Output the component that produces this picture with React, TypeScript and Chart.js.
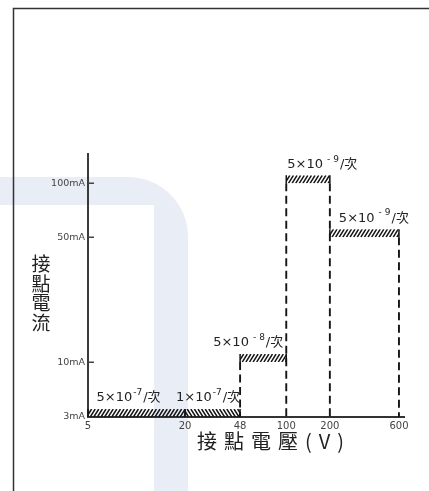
import React, { useEffect, useRef } from 'react';
import { Chart, registerables, LogarithmicScale } from 'chart.js';

Chart.register(...registerables);

// ---------- data ----------
const voltageTicks = [5, 20, 48, 100, 200, 600]; // V
const currentTicks = [3, 10, 50, 100]; // mA
const currentTickLabels = ['3mA', '10mA', '50mA', '100mA'];

const segmentStart = [5, 20, 48, 100, 200]; // V
const segmentEnd = [20, 48, 100, 200, 600]; // V
const segmentCurrent = [3, 3, 10, 100, 50]; // mA
const rateMantissa = ['5', '1', '5', '5', '5'];
const rateExponent = [-7, -7, -8, -9, -9];

const yTitle = '接點電流';
const xTitle = '接點電壓(V)';

// ---------- style ----------
const hatchDir = ['/', '\\', '/', '/', '/'];
const labelAnchor = ['center', 'end', 'end', 'start', 'start'];
const labelShift = [-8, 0, -3, 1, 9];
const expGap = [0, 0, 3, 3, 3];
const Y_MIN = 3;
const Y_MAX = 146;
const X_MIN = 5;
const X_MAX = 650;
const HATCH_H = 8;
const INK = '#151515';
const LATIN = '"DejaVu Sans", sans-serif';
const CJK = '"Noto Sans CJK TC", "Noto Sans CJK SC", sans-serif';

// log axis whose first stretch (below `breakAt`) is drawn at its own, hand-drawn length
class BrokenLogScale extends LogarithmicScale {
  static id = 'brokenLog';
  static defaults = LogarithmicScale.defaults;
  _brk() {
    const o: any = this.options;
    return { b: o.breakAt as number, f: o.lowFraction as number };
  }
  getPixelForValue(value: any) {
    if (value === undefined || value === 0) value = this.min;
    if (value === null || isNaN(value) || value <= 0) return NaN;
    const { b, f } = this._brk();
    const L = Math.log10;
    const min = this.min as number;
    const max = this.max as number;
    let dec: number;
    if (value >= b) dec = f + (1 - f) * (L(value) - L(b)) / (L(max) - L(b));
    else dec = f * (L(value) - L(min)) / (L(b) - L(min));
    return this.getPixelForDecimal(dec);
  }
  getValueForPixel(pixel: number) {
    const { b, f } = this._brk();
    const L = Math.log10;
    const min = this.min as number;
    const max = this.max as number;
    const dec = this.getDecimalForPixel(pixel);
    if (dec >= f) return Math.pow(10, L(b) + (dec - f) / (1 - f) * (L(max) - L(b)));
    return Math.pow(10, L(min) + dec / f * (L(b) - L(min)));
  }
}
Chart.register(BrokenLogScale as any);

// dashed boundary lines, built from the segments
function buildBoundaryPoints() {
  const edges = Array.from(new Set([...segmentStart, ...segmentEnd])).sort((a, b) => a - b);
  const pts: any[] = [];
  edges.forEach((e) => {
    let h = Y_MIN;
    segmentStart.forEach((s, i) => {
      if (s === e || segmentEnd[i] === e) h = Math.max(h, segmentCurrent[i]);
    });
    if (h > Y_MIN) pts.push({ x: e, y: h }, { x: e, y: Y_MIN }, { x: e, y: null });
  });
  return pts;
}

const backgroundPlugin = {
  id: 'paper',
  beforeDraw(chart: any) {
    const ctx = chart.ctx;
    ctx.save();
    ctx.fillStyle = '#ffffff';
    ctx.fillRect(0, 0, chart.width, chart.height);
    const r = 60;
    ctx.fillStyle = '#e9edf6';
    ctx.beginPath();
    ctx.moveTo(0, 177);
    ctx.lineTo(188 - r, 177);
    ctx.arcTo(188, 177, 188, 177 + r, r);
    ctx.lineTo(188, chart.height);
    ctx.lineTo(154, chart.height);
    ctx.lineTo(154, 205);
    ctx.lineTo(0, 205);
    ctx.closePath();
    ctx.fill();
    ctx.strokeStyle = '#333333';
    ctx.lineWidth = 1.5;
    ctx.beginPath();
    ctx.moveTo(13.5, chart.height);
    ctx.lineTo(13.5, 8.5);
    ctx.lineTo(chart.width, 8.5);
    ctx.stroke();
    ctx.restore();
  },
};

function drawRate(ctx: CanvasRenderingContext2D, i: number, x0: number, x1: number, yMid: number) {
  const main = `13px ${LATIN}, ${CJK}`;
  const small = `9px ${LATIN}`;
  const a = `${rateMantissa[i]}×10`;
  const minus = rateExponent[i] < 0 ? '-' : '';
  const digits = String(Math.abs(rateExponent[i]));
  const c = '/次';
  const g = expGap[i];
  ctx.font = main;
  const wa = ctx.measureText(a).width;
  const wc = ctx.measureText(c).width;
  ctx.font = small;
  const wm = ctx.measureText(minus).width;
  const wd = ctx.measureText(digits).width;
  const we = g + wm + g + wd + 2;
  const total = wa + we + wc;
  let left: number;
  if (labelAnchor[i] === 'center') left = (x0 + x1) / 2 - total / 2;
  else if (labelAnchor[i] === 'end') left = x1 - total;
  else left = x0;
  left += labelShift[i];
  ctx.fillStyle = '#222';
  ctx.textBaseline = 'middle';
  ctx.textAlign = 'left';
  ctx.font = main;
  ctx.fillText(a, left, yMid);
  ctx.font = small;
  ctx.fillText(minus, left + wa + 1 + g, yMid - 5);
  ctx.fillText(digits, left + wa + 1 + g + wm + g, yMid - 5);
  ctx.font = main;
  ctx.fillText(c, left + wa + we, yMid);
}

const overlayPlugin = {
  id: 'overlay',
  afterDatasetsDraw(chart: any) {
    const ctx: CanvasRenderingContext2D = chart.ctx;
    const xs = chart.scales.x;
    const ys = chart.scales.y;
    const area = chart.chartArea;
    ctx.save();
    segmentStart.forEach((s, i) => {
      const x0 = xs.getPixelForValue(s);
      const x1 = xs.getPixelForValue(segmentEnd[i]);
      const y = ys.getPixelForValue(segmentCurrent[i]);
      ctx.save();
      ctx.beginPath();
      ctx.rect(x0, y - HATCH_H, x1 - x0, HATCH_H);
      ctx.clip();
      ctx.strokeStyle = INK;
      ctx.lineWidth = 1.5;
      ctx.beginPath();
      const slant = 5;
      for (let x = x0 - slant; x < x1 + slant; x += 3.6) {
        if (hatchDir[i] === '/') {
          ctx.moveTo(x, y);
          ctx.lineTo(x + slant, y - HATCH_H);
        } else {
          ctx.moveTo(x, y - HATCH_H);
          ctx.lineTo(x + slant, y);
        }
      }
      ctx.stroke();
      ctx.restore();
      ctx.strokeStyle = INK;
      ctx.lineWidth = 1.5;
      ctx.beginPath();
      ctx.moveTo(x0, y);
      ctx.lineTo(x0, y - HATCH_H);
      ctx.moveTo(x1, y);
      ctx.lineTo(x1, y - HATCH_H);
      ctx.stroke();
      drawRate(ctx, i, x0, x1, y - HATCH_H - 11);
    });
    // inner tick marks on the current axis
    ctx.strokeStyle = '#444';
    ctx.lineWidth = 1.5;
    ctx.beginPath();
    currentTicks.forEach((v) => {
      if (v === Y_MIN) return;
      const y = Math.round(ys.getPixelForValue(v)) + 0.25;
      ctx.moveTo(area.left, y);
      ctx.lineTo(area.left + 6, y);
    });
    ctx.stroke();
    // axis titles
    ctx.fillStyle = '#222';
    ctx.textAlign = 'center';
    ctx.textBaseline = 'middle';
    ctx.font = `19px ${CJK}`;
    Array.from(yTitle).forEach((ch, k) => {
      ctx.fillText(ch, area.left - 47, area.top + 110 + k * 19.5);
    });
    ctx.textAlign = 'left';
    ctx.font = `20px ${CJK}`;
    (ctx as any).letterSpacing = '7px';
    ctx.fillText(xTitle, area.left + 109, area.bottom + 24);
    (ctx as any).letterSpacing = '0px';
    ctx.restore();
  },
};

export default function App() {
  const ref = useRef<HTMLCanvasElement>(null);
  useEffect(() => {
    if (!ref.current) return;
    const chart = new Chart(ref.current, {
      type: 'line',
      data: {
        datasets: [
          {
            label: 'boundaries',
            data: buildBoundaryPoints(),
            borderColor: INK,
            borderWidth: 1.9,
            borderDash: [8, 4.5],
            pointRadius: 0,
            spanGaps: false,
            fill: false,
          },
        ],
      },
      options: {
        responsive: false,
        animation: false,
        events: [],
        layout: { padding: { left: 0, top: 154, right: 25, bottom: 0 } },
        plugins: { legend: { display: false }, tooltip: { enabled: false } },
        scales: {
          x: {
            type: 'brokenLog',
            breakAt: 20,
            lowFraction: 0.307,
            min: X_MIN,
            max: X_MAX,
            afterFit: (s: any) => {
              s.height = 74;
            },
            afterBuildTicks: (s: any) => {
              s.ticks = voltageTicks.map((v) => ({ value: v }));
            },
            grid: { display: false, drawTicks: false },
            border: { display: true, color: '#333', width: 2 },
            ticks: {
              autoSkip: false,
              maxRotation: 0,
              padding: 3,
              color: '#444',
              font: { family: LATIN, size: 10 },
              callback: (v: any) => String(v),
            },
          },
          y: {
            type: 'brokenLog',
            breakAt: 10,
            lowFraction: 0.209,
            min: Y_MIN,
            max: Y_MAX,
            afterFit: (s: any) => {
              s.width = 88;
            },
            afterBuildTicks: (s: any) => {
              s.ticks = currentTicks.map((v) => ({ value: v }));
            },
            grid: { display: false, drawTicks: false },
            border: { display: true, color: '#3a3a3a', width: 2 },
            ticks: {
              autoSkip: false,
              padding: 3,
              color: '#444',
              font: { family: LATIN, size: 9.5 },
              callback: (v: any) => currentTickLabels[currentTicks.indexOf(Number(v))] ?? '',
            },
          },
        },
      },
      plugins: [backgroundPlugin, overlayPlugin],
    } as any);
    return () => chart.destroy();
  }, []);
  return (
    <div style={{ position: 'fixed', left: 0, top: 0, width: 429, height: 491, background: '#fff' }}>
      <canvas ref={ref} width={429} height={491} style={{ display: 'block', width: 429, height: 491 }} />
    </div>
  );
}
